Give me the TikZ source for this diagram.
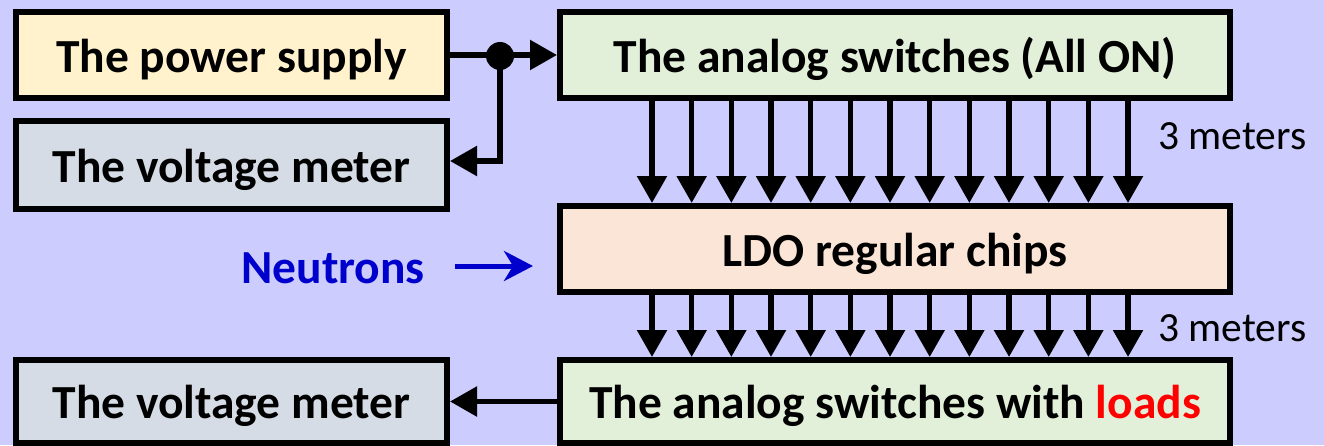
\documentclass[tikz,border=0pt]{standalone}
\usepackage{fontspec}
\setmainfont{Carlito}
\usetikzlibrary{arrows.meta}
\definecolor{bgc}{HTML}{CCCCFF}
\definecolor{psfill}{HTML}{FFF2CC}
\definecolor{vmfill}{HTML}{D6DCE5}
\definecolor{swfill}{HTML}{E2F0D9}
\definecolor{ldofill}{HTML}{FBE5D6}
\definecolor{nblue}{HTML}{0000CC}
\definecolor{lred}{HTML}{FF0000}
\begin{document}
\begin{tikzpicture}[x=1pt,y=-1pt,
  box/.style={draw=black, line width=6pt, inner sep=0pt, outer sep=3pt,
    text height=34pt, text depth=0pt,
    font=\fontsize{47.5}{57}\selectfont\bfseries},
  leftbox/.style={box, minimum width=431pt},
  rightbox/.style={box, minimum width=670pt},
  arr/.style={draw=black, line width=5.5pt, -{Triangle[length=27pt,width=29pt]}},
  narr/.style={draw=nblue, line width=5pt, -{Stealth[length=29pt,width=30pt,inset=9pt]}},
  meterlbl/.style={anchor=base west, inner sep=0pt, font=\fontsize{41.5}{50}\selectfont},
  dotnode/.style={circle, fill=black, inner sep=0pt, minimum size=28pt}
]
\useasboundingbox (0,0) rectangle (1324,445);
\fill[bgc] (0,0) rectangle (1324,445);

\node[leftbox, fill=psfill, minimum height=86pt] (ps) at (231.5,55) {The power supply};
\node[leftbox, fill=vmfill, minimum height=88pt] (vm1) at (231.5,165) {The voltage meter};
\node[rightbox, fill=swfill, minimum height=86pt] (sw1) at (895,55) {The analog switches (All ON)};
\node[rightbox, fill=ldofill, minimum height=86pt] (ldo) at (895,249) {LDO regular chips};
\node[rightbox, fill=swfill, minimum height=83pt] (sw2) at (895,401.5) {The analog switches with \textcolor{lred}{loads}};
\node[leftbox, fill=vmfill, minimum height=83pt] (vm2) at (231.5,401.5) {The voltage meter};

\node[dotnode] (j) at (500,56) {};
\draw[arr] (ps.east) -- (sw1.west);
\draw[arr] (j.center) |- ([yshift=4pt]vm1.east);

\foreach \i in {0,...,12}{
  \draw[arr] ([xshift=95pt+\i*39.67pt]sw1.south west) -- ([xshift=95pt+\i*39.67pt]ldo.north west);
  \draw[arr] ([xshift=95pt+\i*39.67pt]ldo.south west) -- ([xshift=95pt+\i*39.67pt]sw2.north west);
}

\node[meterlbl] (m1) at (1158,149) {3 meters};
\node[meterlbl] (m2) at (1158,341) {3 meters};

\node[anchor=east, inner sep=0pt, text height=34pt, text depth=0pt, text=nblue,
  font=\fontsize{47.5}{57}\selectfont\bfseries] (neu) at (425,266) {Neutrons};
\draw[narr] ([xshift=30pt]neu.east) -- ([xshift=108pt]neu.east);

\draw[arr] (sw2.west) -- (vm2.east);
\end{tikzpicture}
\end{document}
